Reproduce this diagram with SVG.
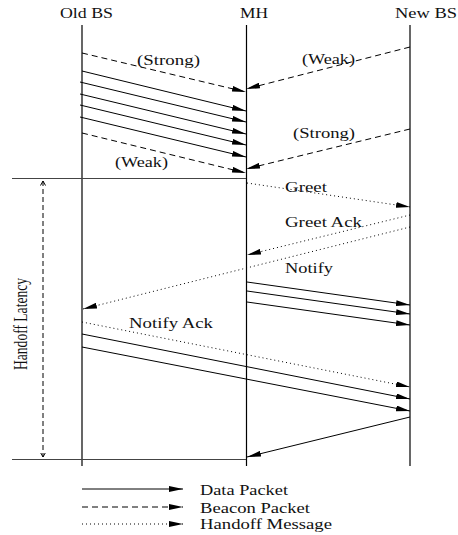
<svg xmlns="http://www.w3.org/2000/svg" width="458" height="535" viewBox="0 0 458 535">
  <style>
    .life { stroke: #000; stroke-width: 1.2; fill: none; }
    .rule { stroke: #444; stroke-width: 1; fill: none; }
    .data { stroke: #000; stroke-width: 1; fill: none; marker-end: url(#head); }
    .beacon { stroke: #000; stroke-width: 1; fill: none; stroke-dasharray: 6 4; marker-end: url(#head); }
    .msg { stroke: #000; stroke-width: 1; fill: none; stroke-dasharray: 1 3; marker-end: url(#head); }
    .span { stroke: #000; stroke-width: 1; fill: none; stroke-dasharray: 5 3; marker-start: url(#open); marker-end: url(#open); }
    text { font-family: "Liberation Serif", "Times New Roman", serif; font-size: 14px; fill: #111; }
  </style>
  <defs>
    <marker id="head" markerUnits="userSpaceOnUse" markerWidth="15" markerHeight="6" refX="14" refY="2.9" orient="auto">
      <path d="M0,0 L14,2.9 L0,5.8 z" fill="#000"/>
    </marker>
    <marker id="open" markerUnits="userSpaceOnUse" markerWidth="6" markerHeight="6" refX="4.5" refY="3" orient="auto-start-reverse">
      <path d="M0,0.5 L4.5,3 L0,5.5" fill="none" stroke="#000" stroke-width="1"/>
    </marker>
  </defs>

  <!-- stations -->
  <g id="old-bs">
    <text x="60" y="18" textLength="53" lengthAdjust="spacingAndGlyphs">Old BS</text>
    <line class="life" x1="82" y1="25" x2="82" y2="466"/>
  </g>
  <g id="mh">
    <text x="240" y="18" textLength="28" lengthAdjust="spacingAndGlyphs">MH</text>
    <line class="life" x1="246.5" y1="25" x2="246.5" y2="466"/>
  </g>
  <g id="new-bs">
    <text x="395" y="18" textLength="62" lengthAdjust="spacingAndGlyphs">New BS</text>
    <line class="life" x1="410" y1="25" x2="410" y2="466"/>
  </g>

  <!-- handoff latency interval -->
  <g id="latency">
    <line class="rule" x1="12" y1="178.5" x2="246" y2="178.5"/>
    <line class="rule" x1="12" y1="459.5" x2="246" y2="459.5"/>
    <line class="span" x1="43" y1="181" x2="43" y2="457"/>
    <text transform="translate(27,324) scale(1.3,1) rotate(-90)" text-anchor="middle" textLength="92" lengthAdjust="spacingAndGlyphs">Handoff Latency</text>
  </g>

  <!-- messages -->
  <g id="connectors">
    <!-- beacons before handoff -->
    <line class="beacon" x1="82" y1="53" x2="246" y2="92"/>
    <line class="beacon" x1="410" y1="47" x2="246" y2="89"/>
    <line class="beacon" x1="82" y1="133" x2="246" y2="173"/>
    <line class="beacon" x1="410" y1="129" x2="246" y2="169"/>
    <!-- data from old base station -->
    <line class="data" x1="82" y1="71" x2="246" y2="111"/>
    <line class="data" x1="80" y1="82" x2="246" y2="122"/>
    <line class="data" x1="80" y1="94" x2="246" y2="134"/>
    <line class="data" x1="80" y1="105" x2="246" y2="145"/>
    <line class="data" x1="80" y1="117" x2="246" y2="157"/>
    <!-- handoff exchange -->
    <line class="msg" x1="247" y1="183" x2="410" y2="207"/>
    <line class="msg" x1="410" y1="215" x2="247" y2="255"/>
    <line class="msg" x1="410" y1="227" x2="83" y2="309"/>
    <line class="data" x1="247" y1="282" x2="410" y2="305"/>
    <line class="data" x1="247" y1="291" x2="410" y2="314"/>
    <line class="data" x1="247" y1="302" x2="410" y2="325"/>
    <line class="msg" x1="82" y1="322" x2="410" y2="387"/>
    <line class="data" x1="82" y1="334" x2="410" y2="399"/>
    <line class="data" x1="82" y1="347" x2="410" y2="411"/>
    <line class="data" x1="410" y1="417" x2="247" y2="457"/>
  </g>

  <!-- message labels -->
  <g id="labels">
    <text x="137" y="65" textLength="63" lengthAdjust="spacingAndGlyphs">(Strong)</text>
    <text x="302" y="64" textLength="53" lengthAdjust="spacingAndGlyphs">(Weak)</text>
    <text x="293" y="138" textLength="62" lengthAdjust="spacingAndGlyphs">(Strong)</text>
    <text x="115" y="167" textLength="53" lengthAdjust="spacingAndGlyphs">(Weak)</text>
    <text x="285" y="192" textLength="42" lengthAdjust="spacingAndGlyphs">Greet</text>
    <text x="285" y="227" textLength="77" lengthAdjust="spacingAndGlyphs">Greet Ack</text>
    <text x="285" y="273" textLength="48" lengthAdjust="spacingAndGlyphs">Notify</text>
    <text x="129" y="328" textLength="84" lengthAdjust="spacingAndGlyphs">Notify Ack</text>
  </g>

  <!-- key -->
  <g id="legend">
    <line class="data" x1="82" y1="489" x2="183" y2="489"/>
    <line class="beacon" x1="82" y1="507" x2="183" y2="507"/>
    <line class="msg" x1="82" y1="524" x2="183" y2="524"/>
    <text x="200" y="495" textLength="88" lengthAdjust="spacingAndGlyphs">Data Packet</text>
    <text x="200" y="513" textLength="110" lengthAdjust="spacingAndGlyphs">Beacon Packet</text>
    <text x="200" y="529" textLength="132" lengthAdjust="spacingAndGlyphs">Handoff Message</text>
  </g>
</svg>
